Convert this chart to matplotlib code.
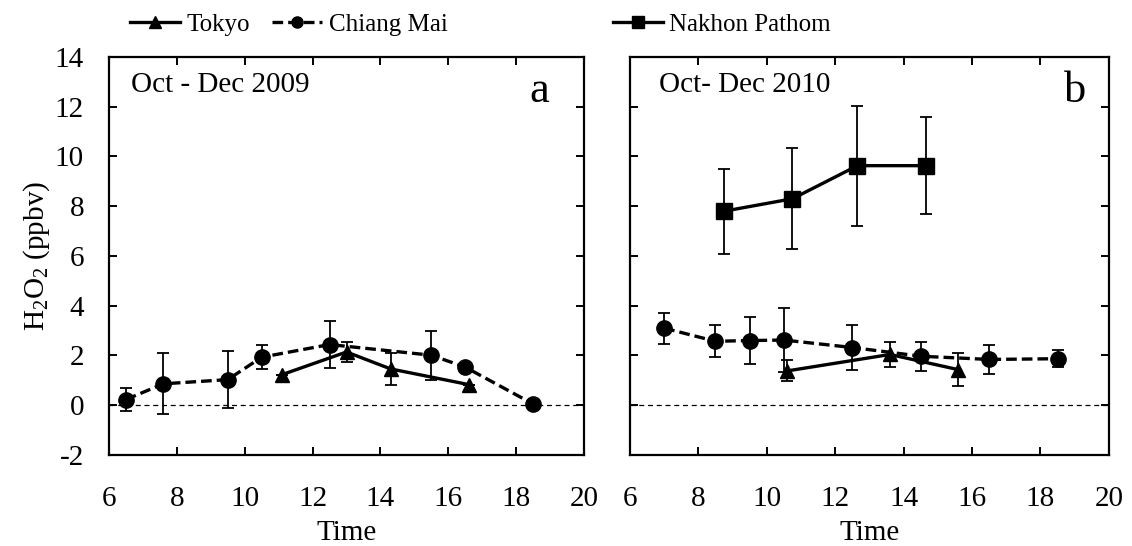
import matplotlib
matplotlib.use("Agg")
import matplotlib.pyplot as plt
from matplotlib.lines import Line2D

plt.rcParams['font.family'] = ['Liberation Serif', 'DejaVu Serif']
plt.rcParams['mathtext.fontset'] = 'custom'
plt.rcParams['mathtext.rm'] = 'Liberation Serif'
plt.rcParams['mathtext.it'] = 'Liberation Serif:italic'
plt.rcParams['axes.unicode_minus'] = False

## data, Oct - Dec 2009
tokyo09_t = [11.1, 13.0, 14.3, 16.6]
tokyo09_v = [1.23, 2.14, 1.46, 0.83]
tokyo09_e = [0.0, 0.42, 0.64, 0.0]

cm09_t = [6.5, 7.6, 9.5, 10.5, 12.5, 15.5, 16.5, 18.5]
cm09_v = [0.23, 0.86, 1.03, 1.93, 2.44, 2.01, 1.53, 0.05]
cm09_e = [0.45, 1.23, 1.14, 0.48, 0.94, 0.98, 0.0, 0.0]

## data, Oct - Dec 2010
tokyo10_t = [10.6, 13.6, 15.6]
tokyo10_v = [1.38, 2.04, 1.43]
tokyo10_e = [0.42, 0.50, 0.67]

cm10_t = [7.0, 8.5, 9.5, 10.5, 12.5, 14.5, 16.5, 18.5]
cm10_v = [3.10, 2.57, 2.60, 2.62, 2.32, 1.97, 1.84, 1.87]
cm10_e = [0.62, 0.64, 0.95, 1.30, 0.90, 0.58, 0.59, 0.35]

np10_t = [8.75, 10.75, 12.65, 14.65]
np10_v = [7.80, 8.30, 9.63, 9.63]
np10_e = [1.71, 2.02, 2.41, 1.96]

fs = 21
lfs = 18
lw = 2.4
dash = (0, (3.2, 1.5))


def series(ax, t, v, e, marker, ms, ls):
    ax.errorbar(t, v, yerr=e, color='black', ecolor='black', elinewidth=1.3,
                capsize=4.5, capthick=1.3, marker=marker, markersize=ms,
                linewidth=lw, linestyle=ls, zorder=3)


def style(ax, left_labels=True):
    ax.set_xlim(6, 20)
    ax.set_ylim(-2, 14)
    ax.set_xticks(range(6, 21, 2))
    ax.set_yticks(range(-2, 15, 2))
    ax.axhline(0, color='black', lw=0.9, ls=(0, (4, 3)), zorder=1)
    ax.tick_params(direction='in', length=6, width=1.4, top=True, right=True,
                   labelsize=fs, labelleft=left_labels)
    ax.tick_params(axis='x', pad=22)
    ax.tick_params(axis='y', pad=18)
    for s in ax.spines.values():
        s.set_linewidth(1.6)
    ax.set_xlabel("Time", fontsize=fs, labelpad=6)


fig = plt.figure(figsize=(11.32, 5.46), dpi=100)
axa = fig.add_axes([0.0963, 0.1667, 0.4196, 0.729])
axb = fig.add_axes([0.5565, 0.1667, 0.4231, 0.729])

series(axa, cm09_t, cm09_v, cm09_e, 'o', 11, dash)
series(axa, tokyo09_t, tokyo09_v, tokyo09_e, '^', 10, '-')
style(axa)
axa.set_ylabel(r"H$_\mathrm{2}$O$_\mathrm{2}$ (ppbv)", fontsize=fs, labelpad=2)
axa.text(0.046, 0.93, "Oct - Dec 2009", transform=axa.transAxes, fontsize=fs,
         va='center', ha='left')
axa.text(0.905, 0.915, "a", transform=axa.transAxes, fontsize=32,
         va='center', ha='center')

series(axb, cm10_t, cm10_v, cm10_e, 'o', 11, dash)
series(axb, tokyo10_t, tokyo10_v, tokyo10_e, '^', 10, '-')
series(axb, np10_t, np10_v, np10_e, 's', 11, '-')
style(axb, left_labels=False)
axb.text(0.06, 0.93, "Oct- Dec 2010", transform=axb.transAxes, fontsize=fs,
         va='center', ha='left')
axb.text(0.93, 0.915, "b", transform=axb.transAxes, fontsize=32,
         va='center', ha='center')

# legend across the top, Nakhon Pathom set apart on the right
h_tokyo = Line2D([], [], color='black', lw=lw, marker='^', ms=8)
h_cm = Line2D([], [], color='black', lw=lw, ls=dash, marker='o', ms=8)
h_np = Line2D([], [], color='black', lw=lw, marker='s', ms=8)
fig.legend([h_tokyo, h_cm], ["Tokyo", "Chiang Mai"], loc='center left',
           bbox_to_anchor=(0.115, 0.955), ncol=2, frameon=False, fontsize=lfs,
           handlelength=2.0, handletextpad=0.25, columnspacing=0.9,
           borderaxespad=0, borderpad=0)
fig.legend([h_np], ["Nakhon Pathom"], loc='center left',
           bbox_to_anchor=(0.5415, 0.955), frameon=False, fontsize=lfs,
           handlelength=2.0, handletextpad=0.25, borderaxespad=0, borderpad=0)

fig.savefig("out.png", dpi=100)
